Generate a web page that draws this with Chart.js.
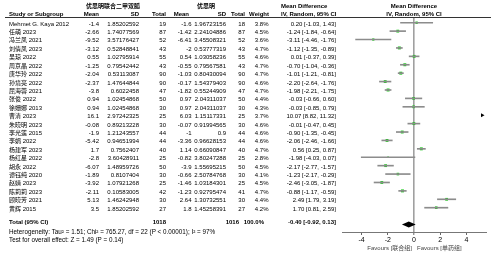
<!DOCTYPE html>
<html>
<head>
<meta charset="utf-8">
<script src="https://cdn.jsdelivr.net/npm/chart.js@4.4.1/dist/chart.umd.min.js"></script>
<style>
  html, body { margin: 0; padding: 0; background: #fff; }
</style>
</head>
<body>
<canvas id="forest" width="496" height="254"></canvas>
<script>
// study rows
const studies = ['Mehmet G. Kaya 2012', '任萌 2023', '冯兰凤 2021', '刘倩凤 2023', '吴琼 2022', '周京晶 2022',
  '唐华玲 2022', '孙境亮 2022', '屈海蓉 2021', '张俊 2022', '徐姗娜 2013', '曹清 2023', '朱晓明 2023',
  '李光莲 2015', '李娟 2022', '杨建军 2023', '杨红星 2022', '胡永 2022', '谭钰纯 2020', '赵婧 2023',
  '陈莉莉 2023', '顾晓芳 2021', '黄辉 2015'];
const expMean = [-1.4, -2.66, -9.52, -3.12, 0.55, -1.25, -2.04, -2.37, -3.8, 0.94, 0.94, 16.1, -0.08,
  -1.9, -5.42, 1.7, -2.8, -6.07, -1.89, -3.92, -2.11, 5.13, 3.5];
const expSD = [1.85202592, 1.74077569, 3.57176427, 0.52848841, 1.02795914, 0.79542442, 0.53113087,
  1.47644844, 0.6022458, 1.02454868, 1.02454868, 2.97242325, 0.89213228, 1.21243557, 0.94651994,
  0.7562407, 3.60428911, 1.48959726, 0.8107404, 1.07921268, 0.10583005, 1.46242948, 1.85202592];
const expN = [19, 87, 52, 43, 55, 43, 90, 90, 47, 50, 30, 25, 30, 44, 44, 40, 25, 50, 30, 25, 42, 30, 27];
const ctlMean = [-1.6, -1.42, -6.41, -2, 0.54, -0.55, -1.03, -0.17, -1.82, 0.97, 0.97, 6.03, -0.07,
  -1, -3.36, 1.14, -0.82, -3.9, -0.66, -1.46, -1.23, 2.64, 1.8];
const ctlSD = [1.96723156, 2.24104886, 3.45508321, 0.53777319, 1.03058236, 0.79567581, 0.80430094,
  1.54379403, 0.55244909, 2.04311037, 2.04311037, 1.15117331, 0.91994565, 0.9, 0.96628153,
  0.66090847, 3.80247288, 1.55695215, 2.50784768, 1.03184301, 0.92795474, 1.30732551, 1.45258391];
const ctlN = [18, 87, 52, 43, 55, 43, 90, 90, 47, 50, 30, 25, 30, 44, 44, 40, 25, 50, 30, 25, 41, 30, 27];
const weights = [3.8, 4.5, 3.6, 4.7, 4.6, 4.7, 4.7, 4.6, 4.7, 4.4, 4.3, 3.7, 4.6, 4.6, 4.6, 4.7, 2.8,
  4.5, 4.1, 4.5, 4.7, 4.4, 4.2];
const md = [0.20, -1.24, -3.11, -1.12, 0.01, -0.70, -1.01, -2.20, -1.98, -0.03, -0.03, 10.07, -0.01,
  -0.90, -2.06, 0.56, -1.98, -2.17, -1.23, -2.46, -0.88, 2.49, 1.70];
const ciLow = [-1.03, -1.84, -4.46, -1.35, -0.37, -1.04, -1.21, -2.64, -2.21, -0.66, -0.85, 8.82, -0.47,
  -1.35, -2.46, 0.25, -4.03, -2.77, -2.17, -3.05, -1.17, 1.79, 0.81];
const ciHigh = [1.43, -0.64, -1.76, -0.89, 0.39, -0.36, -0.81, -1.76, -1.75, 0.60, 0.79, 11.32, 0.45,
  -0.45, -1.66, 0.87, 0.07, -1.57, -0.29, -1.87, -0.59, 3.19, 2.59];

// pooled result
const total = { expN: 1018, ctlN: 1016, md: -0.40, lo: -0.92, hi: 0.13 };
const totalRow = 24;
const xTicks = [-4, -2, 0, 2, 4];

const FONT = '"Liberation Sans", "Noto Sans CJK SC", sans-serif';

function txt(ctx, s, x, y, align, bold, color, size) {
  ctx.font = (bold ? 'bold ' : '') + (size || 6) + 'px ' + FONT;
  ctx.textAlign = align || 'left';
  ctx.textBaseline = 'middle';
  ctx.fillStyle = color || '#000';
  ctx.fillText(s, x, y);
}

const ci = (m, l, h) => m.toFixed(2) + ' [' + l.toFixed(2) + ', ' + h.toFixed(2) + ']';

const tablePlugin = {
  id: 'table',
  afterDraw(chart) {
    const ctx = chart.ctx;
    const xs = chart.scales.x, ys = chart.scales.y;
    const area = chart.chartArea;
    ctx.save();

    // headers
    txt(ctx, '优思明联合二甲双胍', 113, 6.5, 'center', true);
    txt(ctx, '优思明', 206, 6.5, 'center', true);
    txt(ctx, 'Mean Difference', 281, 6.5, 'left', true);
    txt(ctx, 'IV, Random, 95% CI', 281, 14.5, 'left', true);
    txt(ctx, 'Mean Difference', 414, 6.5, 'center', true);
    txt(ctx, 'IV, Random, 95% CI', 414, 14.5, 'center', true);
    txt(ctx, 'Study or Subgroup', 9, 14.5, 'left', true);
    txt(ctx, 'Mean', 99, 14.5, 'right', true);
    txt(ctx, 'SD', 139, 14.5, 'right', true);
    txt(ctx, 'Total', 166, 14.5, 'right', true);
    txt(ctx, 'Mean', 189, 14.5, 'right', true);
    txt(ctx, 'SD', 226, 14.5, 'right', true);
    txt(ctx, 'Total', 245, 14.5, 'right', true);
    txt(ctx, 'Weight', 269, 14.5, 'right', true);

    ctx.strokeStyle = '#333';
    ctx.lineWidth = 1;
    ctx.beginPath();
    ctx.moveTo(5, 17.5);
    ctx.lineTo(491, 17.5);
    ctx.stroke();

    // study rows
    studies.forEach((s, i) => {
      const y = ys.getPixelForValue(i) + 1.3;
      txt(ctx, s, 9, y, 'left');
      txt(ctx, String(expMean[i]), 99, y, 'right');
      txt(ctx, String(expSD[i]), 139, y, 'right');
      txt(ctx, String(expN[i]), 166, y, 'right');
      txt(ctx, String(ctlMean[i]), 191.5, y, 'right');
      txt(ctx, String(ctlSD[i]), 226, y, 'right');
      txt(ctx, String(ctlN[i]), 245, y, 'right');
      txt(ctx, weights[i].toFixed(1) + '%', 268.5, y, 'right');
      txt(ctx, ci(md[i], ciLow[i], ciHigh[i]), 336, y, 'right');

      // off-scale arrow
      if (ciHigh[i] > xs.max && ciLow[i] > xs.max) {
        const yp = ys.getPixelForValue(i);
        ctx.fillStyle = '#000';
        ctx.beginPath();
        ctx.moveTo(area.right - 5, yp - 2);
        ctx.lineTo(area.right - 1.5, yp);
        ctx.lineTo(area.right - 5, yp + 2);
        ctx.closePath();
        ctx.fill();
      }
    });

    // total row
    const ty = ys.getPixelForValue(totalRow) - 2.3;
    txt(ctx, 'Total (95% CI)', 9, ty, 'left', true);
    txt(ctx, String(total.expN), 166, ty, 'right', true);
    txt(ctx, String(total.ctlN), 239, ty, 'right', true);
    txt(ctx, '100.0%', 264, ty, 'right', true);
    txt(ctx, ci(total.md, total.lo, total.hi), 336, ty, 'right', true);
    txt(ctx, 'Heterogeneity: Tau² = 1.51; Chi² = 765.27, df = 22 (P < 0.00001); I² = 97%', 9, 232, 'left', false, '#000', 6.3);
    txt(ctx, 'Test for overall effect: Z = 1.49 (P = 0.14)', 9, 240.5, 'left', false, '#000', 6.3);

    // pooled diamond
    const dy = ys.getPixelForValue(totalRow);
    const h = 2.9;
    ctx.fillStyle = '#000';
    ctx.beginPath();
    ctx.moveTo(xs.getPixelForValue(total.lo), dy);
    ctx.lineTo(xs.getPixelForValue(total.md), dy - h);
    ctx.lineTo(xs.getPixelForValue(total.hi), dy);
    ctx.lineTo(xs.getPixelForValue(total.md), dy + h);
    ctx.closePath();
    ctx.fill();

    // favours labels
    const x0 = xs.getPixelForValue(0);
    txt(ctx, 'Favours [联合组]', x0 - 2, 248, 'right', false, '#444');
    txt(ctx, 'Favours [单药组]', x0 + 3, 248, 'left', false, '#444');

    ctx.restore();
  }
};

new Chart(document.getElementById('forest'), {
  type: 'bar',
  data: {
    datasets: [
      {
        type: 'bar',
        indexAxis: 'y',
        data: studies.map((s, i) => ({ x: [ciLow[i], ciHigh[i]], y: i })),
        backgroundColor: '#8c8c8c',
        barThickness: 1,
        borderWidth: 0
      },
      {
        type: 'scatter',
        data: studies.map((s, i) => ({ x: md[i], y: i })),
        pointStyle: 'rect',
        pointRadius: weights.map(w => w * 0.44),
        backgroundColor: '#18c818',
        borderWidth: 0
      }
    ]
  },
  options: {
    responsive: false,
    animation: false,
    layout: { padding: { left: 342, right: 10, top: 17, bottom: 0 } },
    plugins: { legend: { display: false }, tooltip: { enabled: false } },
    scales: {
      x: {
        type: 'linear',
        offset: false,
        min: -5.5,
        max: 5.5,
        afterBuildTicks: s => { s.ticks = xTicks.map(v => ({ value: v })); },
        afterFit: s => { s.height = 22; },
        ticks: {
          font: { family: FONT, size: 7 },
          color: '#000',
          padding: 1,
          maxRotation: 0
        },
        grid: {
          offset: false,
          drawOnChartArea: true,
          color: c => (c.tick && c.tick.value === 0 ? '#a0a0a0' : 'rgba(0,0,0,0)'),
          lineWidth: c => (c.tick && c.tick.value === 0 ? 1.6 : 1),
          tickColor: '#666',
          tickWidth: 1,
          tickLength: 3
        },
        border: { color: '#777', width: 1 }
      },
      y: {
        type: 'linear',
        offset: false,
        grid: { offset: false },
        display: false,
        reverse: true,
        min: -0.68,
        max: 24.89
      }
    }
  },
  plugins: [tablePlugin]
});
</script>
</body>
</html>
